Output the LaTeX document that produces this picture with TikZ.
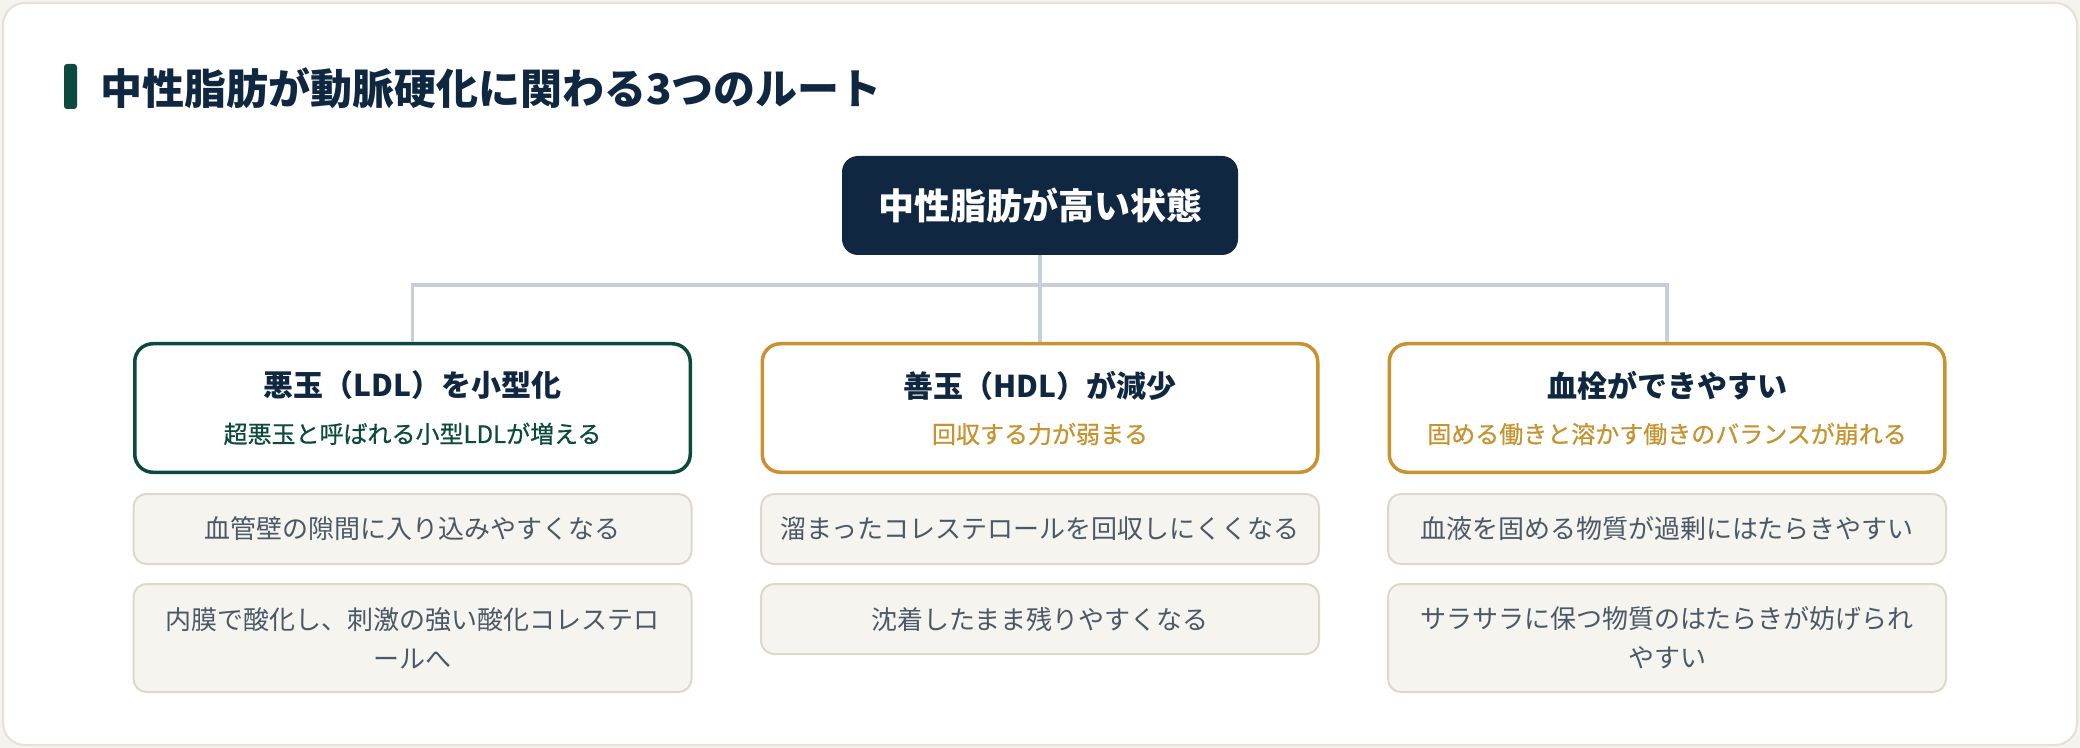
\documentclass[tikz,border=0pt]{standalone}
\usepackage{fontspec}
\setmainfont{Noto Sans CJK JP}
\newfontfamily\subfont[FakeBold=0.6]{Noto Sans CJK JP}
\usetikzlibrary{positioning}

\definecolor{navy}{HTML}{0F2740}
\definecolor{leaf}{HTML}{0B4A3C}
\definecolor{amber}{HTML}{C8922F}
\definecolor{wirecol}{HTML}{C8CED8}
\definecolor{paper}{HTML}{F5F4EE}
\definecolor{paperline}{HTML}{DCD9CB}
\definecolor{cardline}{HTML}{E4E1D5}
\definecolor{backdrop}{HTML}{F4F3EE}
\definecolor{note}{HTML}{4A5868}

\begin{document}
\begin{tikzpicture}[x=0.5pt, y=-0.5pt,
    top/.style={fill=navy, rounded corners=8pt, minimum width=198pt, minimum height=49.5pt, text=white, font=\bfseries\fontsize{18}{22}\selectfont},
    route/.style={draw, fill=white, line width=1.75pt, rounded corners=9pt, minimum width=277.75pt, minimum height=64.25pt, align=center, text=navy, font=\bfseries\fontsize{15}{18}\selectfont},
    fact/.style={draw=paperline, fill=paper, line width=1pt, rounded corners=6.5pt, minimum width=279pt, minimum height=35pt, align=center, text=note, font=\fontsize{13}{19.5}\selectfont},
    wire/.style={draw=wirecol, line width=1.6pt}]
    \useasboundingbox (0,0) rectangle (2080,748);
    \fill[backdrop] (0,0) rectangle (2080,748);
    \draw[cardline, fill=white, line width=1pt, rounded corners=11pt] (3,3) rectangle (2077,745);
    % heading
    \fill[leaf, rounded corners=1.5pt] (64,64) rectangle (77,109);
    \node[anchor=west, inner sep=0pt, text=navy, font=\bfseries\fontsize{21}{25}\selectfont] (title) at (100,88) {中性脂肪が動脈硬化に関わる3つのルート};
    % tree
    \node[top] (root) at (1040,205.5) {中性脂肪が高い状態};
    \node[route, draw=amber] (hdl) at (1040,408) {善玉（HDL）が減少\\[5pt]{\mdseries\subfont\fontsize{12}{14}\selectfont\color{amber}回収する力が弱まる}};
    \node[route, draw=leaf] (ldl) at (412.5,408) {悪玉（LDL）を小型化\\[5pt]{\mdseries\subfont\fontsize{12}{14}\selectfont\color{leaf}超悪玉と呼ばれる小型LDLが増える}};
    \node[route, draw=amber] (clot) at (1667,408) {血栓ができやすい\\[5pt]{\mdseries\subfont\fontsize{12}{14}\selectfont\color{amber}固める働きと溶かす働きのバランスが崩れる}};
    \coordinate (split) at (1040,285);
    \draw[wire] (root.south) -- (split);
    \draw[wire] (ldl.north) |- (split) -| (clot.north);
    \draw[wire] (split) -- (hdl.north);
    % details
    \node[fact, below=9.5pt of ldl] (ldl1) {血管壁の隙間に入り込みやすくなる};
    \node[fact, below=9pt of ldl1, minimum height=54pt] (ldl2) {内膜で酸化し、刺激の強い酸化コレステロ\\ールへ};
    \node[fact, below=9.5pt of hdl] (hdl1) {溜まったコレステロールを回収しにくくなる};
    \node[fact, below=9pt of hdl1] (hdl2) {沈着したまま残りやすくなる};
    \node[fact, below=9.5pt of clot] (clot1) {血液を固める物質が過剰にはたらきやすい};
    \node[fact, below=9pt of clot1, minimum height=54pt] (clot2) {サラサラに保つ物質のはたらきが妨げられ\\やすい};
\end{tikzpicture}
\end{document}
